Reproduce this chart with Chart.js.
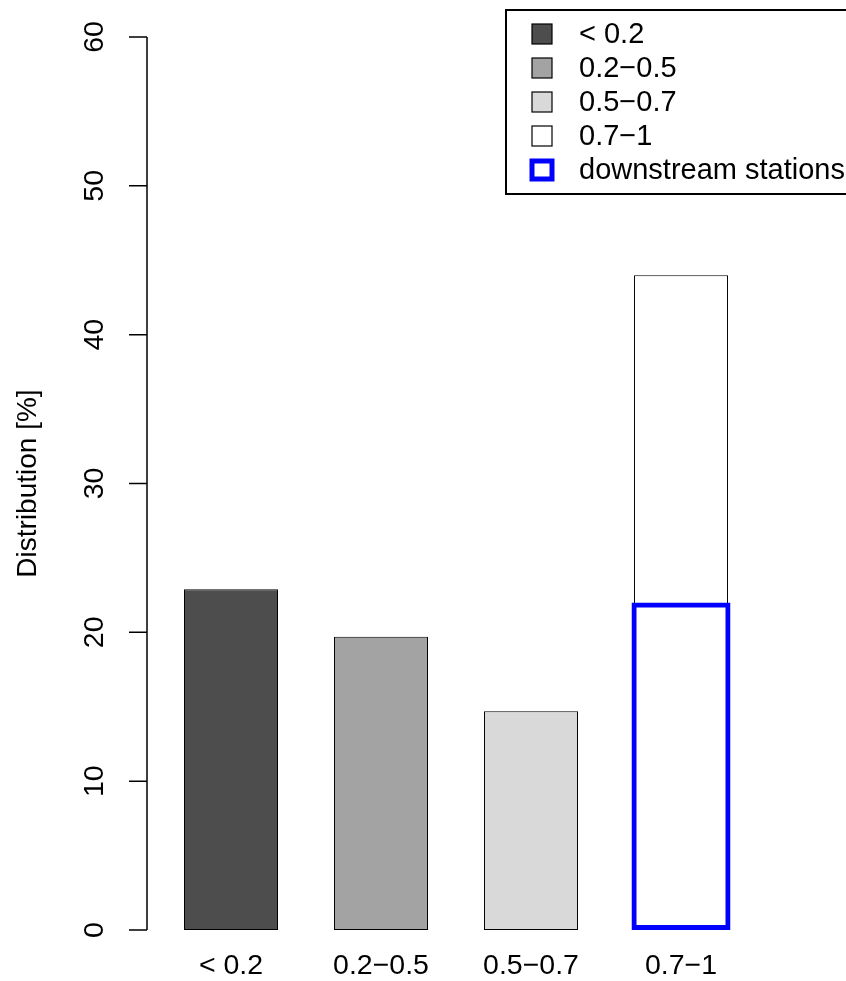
<!DOCTYPE html>
<html>
<head>
<meta charset="utf-8">
<script src="https://cdn.jsdelivr.net/npm/chart.js@4"></script>
<style>body{margin:0;background:#fff}</style>
</head>
<body>
<canvas id="myChart" width="846" height="981"></canvas>
<script>
var categories = ['< 0.2', '0.2\u22120.5', '0.5\u22120.7', '0.7\u22121'];
var distribution = [22.9, 19.7, 14.7, 44.0];
var downstream = [null, null, null, 22.0];
var barColors = ['rgb(77,77,77)', 'rgb(163,163,163)', 'rgb(217,217,217)', 'rgb(255,255,255)'];
var yTicks = [0, 10, 20, 30, 40, 50, 60];
var legendLabels = ['< 0.2', '0.2\u22120.5', '0.5\u22120.7', '0.7\u22121', 'downstream stations'];

var FONT = 'Liberation Sans, Arial, sans-serif';

// R style y axis line + ticks, and the boxed legend in the top right
var rAxis = {
    id: 'rAxis',
    afterDraw: function(chart) {
        var c = chart.ctx, y = chart.scales.y, a = chart.chartArea;
        var x0 = a.left - 9;
        c.save();
        c.strokeStyle = '#000';
        c.lineWidth = 1.5;
        c.beginPath();
        c.moveTo(x0, y.getPixelForValue(yTicks[0]));
        c.lineTo(x0, y.getPixelForValue(yTicks[yTicks.length - 1]));
        yTicks.forEach(function(t) {
            var p = y.getPixelForValue(t);
            c.moveTo(x0, p);
            c.lineTo(x0 - 18, p);
        });
        c.stroke();

        // legend
        c.lineWidth = 2;
        c.strokeRect(506, 10, 345, 184);
        c.font = '29px ' + FONT;
        c.textBaseline = 'middle';
        c.fillStyle = '#000';
        legendLabels.forEach(function(lab, i) {
            var cy = 34 + 34 * i;
            if (i < barColors.length) {
                c.fillStyle = barColors[i];
                c.fillRect(532, cy - 10, 20, 20);
                c.lineWidth = 1.2;
                c.strokeStyle = '#000';
                c.strokeRect(532, cy - 10, 20, 20);
            } else {
                c.lineWidth = 5;
                c.strokeStyle = '#0000ff';
                c.strokeRect(532, cy - 9, 20, 18);
            }
            c.fillStyle = '#000';
            c.fillText(lab, 579, cy + 1);
        });
        c.restore();
    }
};

function noPad(s) {
    s.paddingTop = 0; s.paddingBottom = 0; s.paddingLeft = 0; s.paddingRight = 0;
}

var ctx = document.getElementById('myChart').getContext('2d');
var chart = new Chart(ctx, {
    type: 'bar',
    data: {
        labels: categories,
        datasets: [{
            label: 'distribution',
            data: distribution,
            backgroundColor: barColors,
            borderColor: '#000',
            borderWidth: 1,
            borderSkipped: false,
            grouped: false,
            categoryPercentage: 1,
            barPercentage: 0.627,
            order: 1
        }, {
            label: 'downstream stations',
            data: downstream,
            backgroundColor: 'rgba(0,0,0,0)',
            borderColor: '#0000ff',
            borderWidth: 5,
            borderSkipped: false,
            grouped: false,
            categoryPercentage: 1,
            barPercentage: 0.66,
            order: 0
        }]
    },
    options: {
        responsive: false,
        animation: false,
        events: [],
        layout: { padding: { top: 37, right: 90, bottom: 0, left: 0 } },
        plugins: { legend: { display: false }, tooltip: { enabled: false } },
        scales: {
            x: {
                grid: { display: false, drawTicks: false },
                border: { display: false },
                ticks: { color: '#000', font: { family: FONT, size: 28.5 }, padding: 19, maxRotation: 0, autoSkip: false },
                afterFit: function(s) { s.height = 51; noPad(s); }
            },
            y: {
                min: 0,
                max: 60,
                grid: { display: false, drawTicks: false },
                border: { display: false },
                ticks: {
                    stepSize: 10,
                    color: '#000',
                    font: { family: FONT, size: 28.5 },
                    minRotation: 90,
                    maxRotation: 90,
                    crossAlign: 'center',
                    padding: 45
                },
                title: {
                    display: true,
                    text: 'Distribution [%]',
                    color: '#000',
                    font: { family: FONT, size: 28 },
                    padding: { top: 11, bottom: 0 }
                },
                afterFit: function(s) { s.width = 156; noPad(s); }
            }
        }
    },
    plugins: [rAxis]
});
</script>
</body>
</html>
